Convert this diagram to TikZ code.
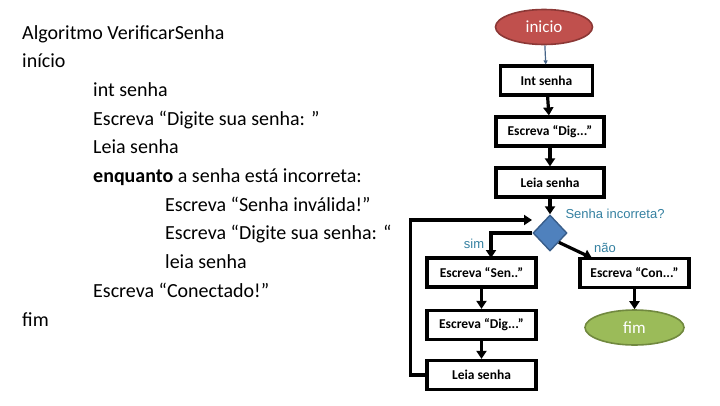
\documentclass[tikz,border=0pt]{standalone}
\usepackage{fontspec}
\setmainfont{Carlito}
\newfontfamily\lblfont{Liberation Sans}
\usetikzlibrary{shapes.geometric, arrows.meta, positioning}
\definecolor{redfill}{RGB}{192,80,77}
\definecolor{redline}{RGB}{140,56,54}
\definecolor{greenfill}{RGB}{155,187,89}
\definecolor{greenline}{RGB}{113,137,63}
\definecolor{bluefill}{RGB}{79,129,189}
\definecolor{blueline}{RGB}{56,93,138}
\definecolor{lbltext}{RGB}{52,128,160}

\begin{document}
\begin{tikzpicture}[
  x=1pt, y=-1pt,
  code/.style={anchor=base west, inner sep=0pt, font=\fontsize{20}{24}\selectfont},
  box/.style={rectangle, draw=black, line width=3.2pt, fill=white, inner sep=0pt,
              minimum height=29pt, font=\bfseries\fontsize{13.5}{15}\selectfont},
  term/.style={ellipse, line width=1.6pt, minimum height=35pt, inner sep=0pt,
               text=white, font=\fontsize{17}{20}\selectfont},
  decision/.style={diamond, draw=blueline, fill=bluefill, line width=1.4pt,
                   minimum width=34pt, minimum height=36pt, inner sep=0pt},
  lbl/.style={text=lbltext, inner sep=0pt, font=\lblfont\fontsize{13}{15}\selectfont},
  arrow/.style={-{Triangle[width=10pt,length=8pt]}, line width=3.2pt, black}
]
\useasboundingbox (0,0) rectangle (720,405);

% pseudocode
\node[code] (c1) at (22,39) {Algoritmo VerificarSenha};
\node[code] (c2) at (22,67.7) {início};
\node[code] (c3) at (93,96.4) {int senha};
\node[code] (c4) at (93,125.1) {Escreva “Digite sua senha: ”};
\node[code] (c5) at (93,153.8) {Leia senha};
\node[code] (c6) at (93,182.5) {\textbf{enquanto} a senha está incorreta:};
\node[code] (c7) at (165,211.2) {Escreva “Senha inválida!”};
\node[code] (c8) at (165,239.9) {Escreva “Digite sua senha: “};
\node[code] (c9) at (165,268.6) {leia senha};
\node[code] (c10) at (93,297.3) {Escreva “Conectado!”};
\node[code] (c11) at (22,326) {fim};

% flowchart
\node[term, draw=redline, fill=redfill, minimum width=97pt] (inicio) at (544,27) {inicio};
\node[box, minimum width=92pt] (intsenha) at (546.5,80.5) {Int senha};
\node[box, minimum width=108pt] (dig1) at (550,131.5) {Escreva “Dig...”};
\node[box, minimum width=108pt] (leia1) at (550,182.5) {Leia senha};
\node[decision] (dec) at (550,233) {};
\node[lbl] (pergunta) at (615,214) {Senha incorreta?};
\node[lbl] (sim) at (474,244) {sim};
\node[lbl] (nao) at (605,248) {não};
\node[box, minimum width=109pt] (sen) at (481.5,272.5) {Escreva “Sen..”};
\node[box, minimum width=109pt] (dig2) at (481.5,325) {Escreva “Dig...”};
\node[box, minimum width=109pt] (leia2) at (481.5,375) {Leia senha};
\node[box, minimum width=109pt] (con) at (634.5,273) {Escreva “Con...”};
\node[term, draw=greenline, fill=greenfill, minimum width=99pt] (fim) at (634.5,327.5) {fim};

\coordinate (simend) at (491,258);
\coordinate (naoend) at (592,258);
\coordinate (loopend) at (532,220);

\draw[-{Triangle[width=4pt,length=4pt]}, line width=1.2pt, draw=blueline!80!gray] (inicio) -- (intsenha);
\draw[arrow] (intsenha) -- (dig1);
\draw[arrow] (dig1) -- (leia1);
\draw[arrow] (leia1) -- (dec);
\draw[arrow] (dec.west) -| (simend);
\draw[arrow] (dec.south east) -- (naoend);
\draw[arrow] (sen) -- (dig2);
\draw[arrow] (dig2) -- (leia2);
\draw[arrow] (con) -- (fim);
\draw[arrow] (leia2.west) -- ++(-15,0) |- (loopend);

\end{tikzpicture}
\end{document}
